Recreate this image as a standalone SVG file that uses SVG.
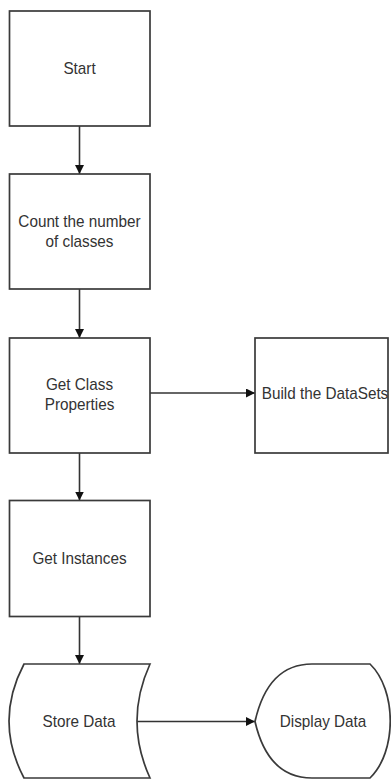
<svg xmlns="http://www.w3.org/2000/svg" width="391" height="780" viewBox="0 0 391 780">
  <style>
    .shape { fill: #ffffff; stroke: #3a3a3a; stroke-width: 1.7; }
    .edge { fill: none; stroke: #333333; stroke-width: 1.6; }
    .label { font-family: "Liberation Sans", Arial, sans-serif; font-size: 16.8px; fill: #333333; text-anchor: middle; }
  </style>
  <defs>
    <marker id="arrow" viewBox="0 0 10 10" refX="10" refY="5" markerWidth="9" markerHeight="9" markerUnits="userSpaceOnUse" orient="auto">
      <path d="M0,0 L10,5 L0,10 Z" fill="#111111"/>
    </marker>
  </defs>
  <rect width="391" height="780" fill="#ffffff"/>

  <g id="connectors">
    <line class="edge" x1="79.5" y1="126" x2="79.5" y2="174" marker-end="url(#arrow)"/>
    <line class="edge" x1="79.5" y1="289" x2="79.5" y2="338" marker-end="url(#arrow)"/>
    <line class="edge" x1="150" y1="393" x2="255" y2="393" marker-end="url(#arrow)"/>
    <line class="edge" x1="79.5" y1="453" x2="79.5" y2="500.5" marker-end="url(#arrow)"/>
    <line class="edge" x1="79.5" y1="616.5" x2="79.5" y2="664" marker-end="url(#arrow)"/>
    <line class="edge" x1="137" y1="721.5" x2="255" y2="721.5" marker-end="url(#arrow)"/>
  </g>

  <g id="start">
    <rect class="shape" x="9.5" y="11" width="140.5" height="115"/>
    <text class="label" transform="translate(79.5,73.5) scale(0.91,1)">Start</text>
  </g>

  <g id="count-classes">
    <rect class="shape" x="9.5" y="174" width="140.5" height="115"/>
    <text class="label" transform="translate(79.5,227) scale(0.91,1)">Count the number</text>
    <text class="label" transform="translate(79.5,247) scale(0.91,1)">of classes</text>
  </g>

  <g id="class-properties">
    <rect class="shape" x="9.5" y="338" width="140.5" height="115"/>
    <text class="label" transform="translate(79.5,390) scale(0.91,1)">Get Class</text>
    <text class="label" transform="translate(79.5,410) scale(0.91,1)">Properties</text>
  </g>

  <g id="build-datasets">
    <rect class="shape" x="255" y="338" width="133" height="115"/>
    <text class="label" transform="translate(325,399.3) scale(0.91,1)">Build the DataSets</text>
  </g>

  <g id="get-instances">
    <rect class="shape" x="9.5" y="500.5" width="140.5" height="116"/>
    <text class="label" transform="translate(79.5,564) scale(0.91,1)">Get Instances</text>
  </g>

  <g id="store-data">
    <path class="shape" d="M24,664 L150,664 Q124,721 150,778 L24,778 Q-6,721 24,664 Z"/>
    <text class="label" transform="translate(79,726.7) scale(0.91,1)">Store Data</text>
  </g>

  <g id="display-data">
    <path class="shape" d="M255,721.5 Q268,664 312,664 L370,664 C397,690 397,752 370,778 L312,778 Q268,778 255,721.5 Z"/>
    <text class="label" transform="translate(323,726.7) scale(0.91,1)">Display Data</text>
  </g>
</svg>
